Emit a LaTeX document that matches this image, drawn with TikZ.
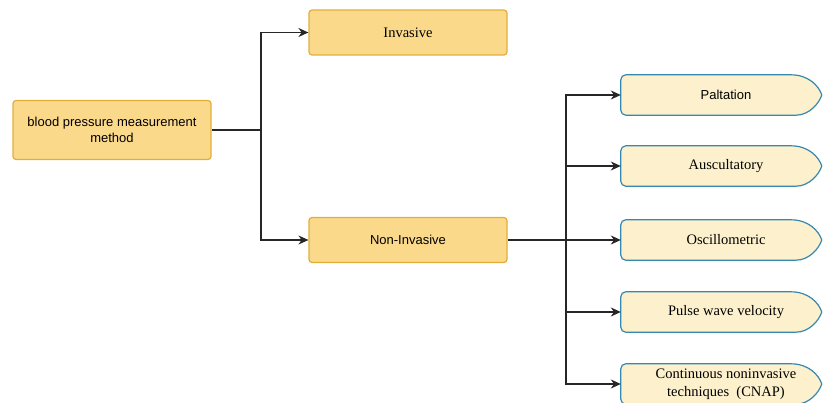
\documentclass[tikz,border=0pt]{standalone}
\usepackage{fontspec}
\setmainfont{Liberation Serif}
\setsansfont{Liberation Sans}
\usetikzlibrary{arrows.meta,backgrounds}
\definecolor{boxfill}{HTML}{FBD98B}
\definecolor{boxline}{HTML}{E2AE3A}
\definecolor{palefill}{HTML}{FDF1CD}
\definecolor{tealline}{HTML}{3589B0}

\begin{document}
\begin{tikzpicture}
        [x=1pt,y=-1pt,
         yellowbox/.style={rectangle,rounded corners=3pt,draw=boxline,fill=boxfill,line width=1.2pt,minimum width=198pt,align=center},
         methodbox/.style={rectangle,minimum width=210pt,minimum height=40pt,align=center,font=\fontsize{14.5}{17.5}\selectfont},
         methodline/.style={draw=tealline,fill=palefill,line width=1.2pt},
         link/.style={black!85,line width=1.1pt,-{Stealth[length=10pt,width=9pt]}}]
        \useasboundingbox (0,0) rectangle (823,403);

        % left column
        \node[yellowbox,minimum height=59pt,font=\sffamily\fontsize{13}{15.5}\selectfont] (root) at (112,130) {blood pressure measurement\\method};
        \node[yellowbox,minimum height=45pt,font=\fontsize{14.5}{17}\selectfont] (inv) at (408,32.5) {Invasive};
        \node[yellowbox,minimum height=45pt,font=\sffamily\fontsize{13}{15}\selectfont] (noninv) at (408,240) {Non-Invasive};

        % non-invasive methods
        \node[methodbox,font=\sffamily\fontsize{13}{15}\selectfont] (palt) at (726,95) {Paltation};
        \node[methodbox] (ausc) at (726,166) {Auscultatory};
        \node[methodbox] (osci) at (726,240) {Oscillometric};
        \node[methodbox] (pwv) at (726,312) {Pulse wave velocity};
        \node[methodbox] (cnap) at (726,384) {Continuous noninvasive\\techniques\hspace{0.5em}(CNAP)};

        \begin{scope}[on background layer]
        \foreach \n in {palt,ausc,osci,pwv,cnap}
            \path[methodline] ([xshift=201pt]\n.west)
                .. controls ([xshift=198pt,yshift=9pt]\n.west) and ([xshift=188pt]\n.north west) .. ([xshift=170pt]\n.north west)
                [rounded corners=5pt] -- (\n.north west) -- (\n.south west) -- ([xshift=170pt]\n.south west) [sharp corners]
                .. controls ([xshift=188pt]\n.south west) and ([xshift=198pt,yshift=-9pt]\n.west) .. cycle;
        \end{scope}

        % connectors
        \coordinate (split1) at (261,130);
        \coordinate (split2) at (566,240);
        \draw[black!85,line width=1.1pt] (root) -- (split1);
        \draw[link] (split1) |- (inv);
        \draw[link] (split1) |- (noninv);
        \draw[black!85,line width=1.1pt] (noninv) -- (split2);
        \foreach \n in {palt,ausc,osci,pwv,cnap}
            \draw[link] (split2) |- (\n);
    \end{tikzpicture}
\end{document}
